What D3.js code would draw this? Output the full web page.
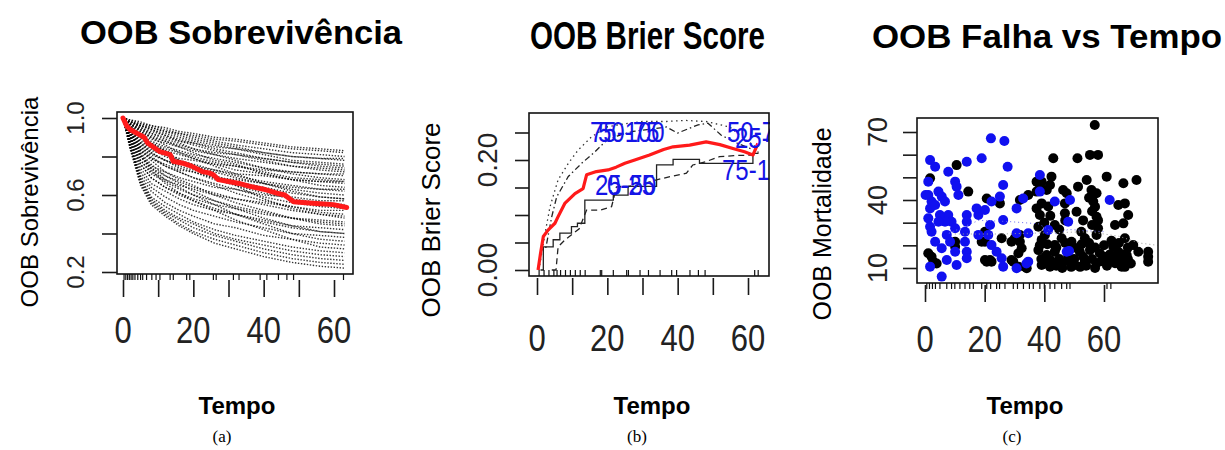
<!DOCTYPE html>
<html><head><meta charset="utf-8">
<script src="https://cdn.jsdelivr.net/npm/d3@7"></script>
<style>body{margin:0;background:#fff} svg{display:block}</style>
</head><body>
<svg id="c" width="1225" height="450"></svg>
<script>
// ---------- Panel (a): OOB survival ----------
const survTimes = [0,2,5,8,12,16,20,26,32,40,48,56,63];
const survCurves = [
 [1,.99,.97,.96,.94,.92,.91,.89,.88,.86,.84,.83,.82],
 [1,.98,.97,.95,.93,.92,.90,.88,.86,.84,.82,.81,.80],
 [1,.98,.96,.95,.93,.91,.89,.87,.85,.82,.80,.79,.78],
 [1,.98,.96,.94,.92,.90,.88,.86,.84,.81,.78,.77,.76],
 [1,.98,.96,.94,.91,.89,.87,.84,.82,.79,.77,.75,.74],
 [1,.98,.95,.93,.91,.88,.86,.83,.81,.78,.75,.73,.72],
 [1,.96,.91,.88,.85,.83,.81,.79,.77,.74,.72,.71,.70],
 [1,.97,.95,.92,.89,.87,.84,.81,.78,.74,.71,.69,.68],
 [1,.95,.90,.86,.83,.81,.79,.76,.73,.71,.68,.67,.66],
 [1,.97,.94,.91,.88,.85,.82,.78,.76,.71,.68,.65,.64],
 [1,.95,.89,.85,.81,.78,.76,.73,.70,.67,.65,.63,.62],
 [1,.94,.88,.84,.80,.77,.75,.72,.69,.66,.63,.61,.60],
 [1,.97,.93,.90,.86,.82,.79,.75,.71,.66,.62,.59,.58],
 [1,.94,.87,.82,.78,.74,.72,.68,.65,.61,.58,.56,.55],
 [1,.90,.78,.72,.68,.65,.63,.60,.58,.56,.54,.52,.52],
 [1,.93,.85,.80,.75,.72,.69,.65,.61,.57,.54,.51,.50],
 [1,.96,.91,.87,.83,.78,.74,.69,.65,.58,.53,.50,.48],
 [1,.89,.76,.69,.64,.61,.58,.55,.53,.50,.48,.47,.46],
 [1,.92,.83,.78,.72,.68,.65,.60,.56,.52,.48,.45,.44],
 [1,.88,.74,.66,.62,.58,.55,.52,.50,.47,.44,.43,.42],
 [1,.92,.82,.76,.70,.66,.62,.57,.53,.48,.44,.41,.40],
 [1,.88,.72,.64,.59,.55,.52,.49,.46,.43,.40,.39,.38],
 [1,.91,.81,.74,.68,.64,.60,.55,.50,.45,.40,.37,.36],
 [1,.87,.70,.62,.56,.52,.49,.45,.43,.39,.37,.35,.34],
 [1,.90,.80,.73,.66,.61,.57,.52,.47,.42,.37,.33,.32],
 [1,.86,.69,.59,.54,.50,.46,.42,.39,.36,.33,.31,.30],
 [1,.86,.68,.58,.52,.48,.45,.40,.37,.34,.31,.29,.28],
 [1,.85,.67,.57,.51,.47,.43,.39,.36,.32,.29,.27,.26],
 [1,.85,.66,.56,.50,.45,.41,.37,.34,.30,.27,.25,.24],
 [1,.84,.65,.55,.49,.44,.40,.35,.32,.28,.25,.23,.22],
 [1,.97,.94,.92,.90,.88,.87,.85,.84,.82,.80,.79,.79],
 [1,.97,.93,.90,.88,.86,.84,.82,.81,.79,.77,.76,.75],
 [1,.94,.87,.83,.81,.79,.78,.76,.75,.73,.72,.71,.71],
 [1,.93,.85,.81,.78,.76,.75,.73,.71,.70,.68,.67,.67],
 [1,.93,.83,.79,.76,.73,.72,.69,.68,.66,.64,.63,.63],
 [1,.91,.81,.75,.72,.69,.67,.64,.63,.60,.59,.57,.57],
 [1,.99,.98,.96,.95,.93,.92,.90,.89,.87,.85,.84,.83],
 [1,.96,.92,.89,.87,.85,.83,.81,.79,.77,.75,.74,.73],
 [1,.95,.90,.87,.84,.82,.80,.77,.75,.72,.69,.68,.67],
 [1,.93,.86,.82,.78,.75,.73,.70,.67,.64,.61,.59,.58],
 [1,.92,.84,.79,.75,.72,.69,.66,.63,.59,.56,.54,.53],
 [1,.90,.80,.74,.70,.67,.64,.61,.58,.55,.52,.50,.49],
 [1,.89,.78,.71,.67,.63,.60,.57,.54,.51,.48,.46,.45],
 [1,.88,.76,.69,.64,.60,.57,.53,.50,.46,.43,.41,.40]
];
const survMeanT = [0,1,2,4,6,7,10.5,13.4,14.3,17,19.5,22.8,24.5,25.7,27.1,30,33,36.1,40,43.7,46,48.5,52,56,59.8,63.6];
const survMeanV = [1.0,.96,.94,.92,.90,.87,.825,.81,.775,.765,.75,.72,.715,.705,.68,.67,.66,.645,.63,.61,.60,.565,.56,.555,.55,.535];
const survRug = [0.3,0.8,1.3,1.8,2.3,2.8,3.4,4.2,5,5.6,6.7,8.2,9.4,10.5,13.4,14.3,18.1,19,25.7,26.5,31.4,33,39,40.9,44.2,46.6,48.5,62.7];
const xTicksA = [0,10,20,30,40,50,60], xLabA = [0,20,40,60];
const yTicksA = [0.2,0.4,0.6,0.8,1.0], yLabA = [0.2,0.6,1.0];

// ---------- Panel (b): OOB Brier score ----------
const brierRedT = [0.3,1.0,1.8,3.2,5.1,6,7.9,10.8,13.1,14.1,16.9,20.2,22.5,25,27.8,32,36,38.7,43.4,48.1,52,55.7,59,61.4,62.8];
const brierRedV = [0.0,0.03,0.061,0.073,0.085,0.097,0.121,0.139,0.148,0.173,0.179,0.182,0.187,0.194,0.2,0.209,0.219,0.224,0.227,0.233,0.228,0.221,0.215,0.209,0.23];
const brierSolidT = [1.0,1.8,4.6,6.5,9.8,11.5,13.6,21.7,25.9,34,38.7,46.2,61.4,63];
const brierSolidV = [0.0,0.042,0.055,0.067,0.079,0.085,0.127,0.136,0.152,0.191,0.201,0.194,0.212,0.212];
const brierDashT = [4.2,5.4,6,8,10,12,14.1,18,21.2,22.6,26,30,34,38,42.5,44.3,48,51.9,56,61.4,63];
const brierDashV = [0.0,0.0,0.042,0.055,0.065,0.075,0.109,0.109,0.115,0.151,0.152,0.156,0.164,0.170,0.176,0.191,0.197,0.206,0.208,0.209,0.215];
const brierDotT = [0.5,0.85,2.3,3.7,6,8.9,11.7,15.5,19.8,25,30,36.8,42,48.1,54.8,59.5,62];
const brierDotV = [0,0.012,0.067,0.115,0.164,0.194,0.218,0.242,0.26,0.266,0.27,0.27,0.272,0.27,0.26,0.236,0.225];
const brierDotDashT = [2.5,4.2,5.6,8.9,12.7,16.5,19.8,23,27.3,32,36.8,40,45.8,48.6,52.4,57.1,61];
const brierDotDashV = [0.04,0.097,0.133,0.17,0.194,0.215,0.236,0.244,0.252,0.256,0.26,0.249,0.264,0.267,0.245,0.23,0.22];
const brierLabels = ["75-100","50-75","25-50","0-25","50-75","25-50","75-100"];
const brierRug = [0.6,2.0,3.4,4.8,5.7,6.7,8.1,9.5,10.9,12.3,13.7,18,18.4,21.7,25.5,26,29.3,31.7,35,38.3,39.7,43.5,45.9,47.8,61.9,62.9];
const xTicksB = [0,10,20,30,40,50,60], xLabB = [0,20,40,60];
const yTicksB = [0,0.05,0.10,0.15,0.20,0.25], yLabB = [0,0.2];

// ---------- Panel (c): OOB failure vs time ----------
const failBlue = [[22.1,67.2],[26.6,66.0],[1.7,57.6],[3.4,54.7],[14.0,56.9],[19.0,58.4],[7.8,52.5],[27.7,54.7],[10.1,48.1],[10.6,45.9],
 [1.1,42.2],[2.2,39.3],[4.5,43.7],[5.6,41.5],[1.7,36.3],[3.4,37.8],[6.7,39.3],[11.2,42.2],[26.2,46.6],[25.1,41.5],[22.3,39.3],
 [1.1,31.9],[1.7,28.2],[2.2,26.0],[7.8,33.4],[8.9,30.4],[6.7,30.4],[10.1,27.5],[14.0,33.4],[14.0,30.4],[13.4,26.0],[17.9,33.4],
 [17.3,36.3],[21.8,29.0],[26.2,31.2],[30.7,36.3],[32.9,40.7],[34.6,25.3],[3.4,21.6],[5.6,18.7],[7.3,13.5],[10.1,17.2],[13.4,21.6],
 [14.0,17.2],[14.0,14.3],[10.6,11.3],[5.6,6.2],[1.7,10.6],[22.3,20.1],[24.0,17.2],[25.7,14.3],[26.2,10.6],[30.7,9.9],[34.6,12.8],
 [17.9,24.6],[21.2,24.6],[7.3,24.6],[8.4,21.6],[5.0,33.4],[4.5,30.4],[0.2,42.2],[1.1,48.1],[20.1,35.6],[38.5,51.0],[38.5,43.7],
 [43.5,39.3],[48.6,40.0],[61.9,40.0],[48.0,30.4],[47.5,17.2],[48.3,17.5],[41.3,26.8],[30.7,25.3],[34.0,12.0]];
const failBlack = [[1.7,49.6],[2.2,15.0],[3.9,12.0],[10.6,55.4],[14.5,43.7],[10.1,21.6],[10.1,19.4],[20.7,40.7],[20.1,21.6],[20.7,12.8],
 [22.3,12.8],[25.1,38.5],[25.7,23.1],[29.6,12.8],[30.1,23.1],[31.8,21.6],[31.3,16.5],[31.8,40.0],[34.6,42.2],[34.1,9.9],[31.3,10.6],
 [1.1,16.5],[2.8,12.8],[19.0,21.6],[20.1,26.0],[20.1,13.5],[21.8,13.5],[29.0,21.6],[29.0,13.5],[31.8,24.6],[32.4,18.7],[33.5,10.6],
 [37.4,48.1],[37.4,43.7],[37.4,36.3],[56.9,73.1],[43.0,58.4],[51.1,58.4],[55.3,59.9],[58.0,59.9],[54.2,48.8],[60.9,50.3],[66.5,47.4],
 [70.9,48.8],[41.9,46.6],[38.5,46.6],[51.3,45.9],[47.5,43.0],[55.8,44.4],[57.5,43.0],[56.4,39.3],[64.8,37.8],[67.0,38.5],[39.1,38.5],
 [41.3,37.1],[46.9,34.1],[50.8,34.8],[57.5,32.6],[68.1,33.4],[38.5,33.4],[43.5,29.0],[38.0,28.2],[52.4,26.0],[58.0,27.5],[63.7,29.0],
 [66.5,29.7],[39.1,22.4],[45.8,23.1],[53.6,23.1],[57.5,24.6],[67.0,23.1],[63.1,19.4],[69.8,20.1],[74.8,17.2],[74.8,12.8],[38.0,17.9],
 [40.8,15.7],[43.5,17.2],[48.0,15.0],[51.9,17.2],[55.3,17.9],[58.6,16.5],[61.9,14.3],[64.8,17.2],[67.6,15.7],[71.5,17.2],[39.1,11.3],
 [41.9,10.6],[45.8,12.1],[50.3,11.3],[53.6,12.8],[57.5,12.1],[63.7,12.1],[65.9,10.6],[67.0,12.8],[49.1,21.6],[43.5,20.1],[40.2,24.6],
 [39.1,48.1],[40.8,44.4],[42.4,50.3],[46.3,44.4],[46.9,38.5],[74.8,15.0],[39,14],[40,12],[42,13.5],[44,11],[45,14],[46,10],[48,13],
 [49,10.5],[50,14],[52,10.5],[53,15],[54,11],[56,14],[57,10],[59,13],[60,15],[61,11],[62,16],[64,14],[65,12],[66,16],[67,10.5],[68,14],
 [69,12],[38.5,20],[41,20.5],[44,19],[47,21],[50,19],[52.5,20.5],[55,21],[57,19],[60,20],[62.5,22],[65,21],[68,19],[56,35],[57,37],
 [55,41],[58,31],[56,29],[53,31],[45,27],[47,31],[42,33],[40,30]];
const failBlueLineT = [8,18,28,38,44,48,60];
const failBlueLineV = [25.3,31,30.5,29.5,25,27,26];
const failGreyLineT = [10,25,40,55,65,72,78];
const failGreyLineV = [25,25,25.5,26,24,21,20];
const failRug = [0.6,1.5,2.5,3.5,5,7.3,8.9,10,11.7,13.4,15,16.2,19,20.7,22,24,25,26.8,29.6,31,33,35,36.3,38.5,40,41.9,43.5,45.8,47.5,48.6,61,62.3];
const xTicksC = [0,20,40,60], xLabC = [0,20,40,60];
const yTicksC = [10,20,30,40,50,60,70], yLabC = [10,40,70];

// ---------- drawing ----------
const svg = d3.select("#c");
const SANS = "'Liberation Sans', Arial, sans-serif";
const SERIF = "'Liberation Serif', 'Times New Roman', serif";
const defs = svg.append("defs");

function clip(id, b){
  defs.append("clipPath").attr("id", id).append("rect")
    .attr("x", b.x0).attr("y", b.y0).attr("width", b.x1 - b.x0).attr("height", b.y1 - b.y0);
}
function box(b){
  svg.append("rect").attr("x", b.x0).attr("y", b.y0).attr("width", b.x1 - b.x0).attr("height", b.y1 - b.y0)
    .attr("fill", "none").attr("stroke", "#111").attr("stroke-width", 1.6);
}
function xAxis(scale, ticks, y, len){
  const g = svg.append("g").attr("transform", `translate(0,${y})`)
    .call(d3.axisBottom(scale).tickValues(ticks).tickSize(len).tickFormat(""));
  g.select(".domain").remove();
  g.selectAll("line").attr("stroke", "#1a1a1a").attr("stroke-width", 1.6);
}
function yAxis(scale, ticks, x, len){
  const g = svg.append("g").attr("transform", `translate(${x},0)`)
    .call(d3.axisLeft(scale).tickValues(ticks).tickSize(len).tickFormat(""));
  g.select(".domain").remove();
  g.selectAll("line").attr("stroke", "#1a1a1a").attr("stroke-width", 1.6);
}
function xLabels(scale, vals, y, size){
  svg.append("g").selectAll("text").data(vals).join("text")
    .attr("transform", d => `translate(${scale(d)},${y}) scale(1,1.2)`)
    .attr("text-anchor", "middle").attr("font-family", SANS).attr("font-size", size)
    .attr("fill", "#222").text(d => d);
}
function yLabels(scale, vals, fmt, x, size){
  svg.append("g").selectAll("text").data(vals).join("text")
    .attr("transform", d => `translate(${x},${scale(d)}) rotate(-90)`)
    .attr("text-anchor", "middle").attr("font-family", SANS).attr("font-size", size)
    .attr("fill", "#222").text(d => fmt(d));
}
function rotTitle(txt, x, y, size){
  svg.append("text").attr("transform", `translate(${x},${y}) rotate(-90)`)
    .attr("text-anchor", "middle").attr("font-family", SANS).attr("font-size", size)
    .attr("fill", "#000").text(txt);
}
function title(txt, x, y, size, len){
  svg.append("text").attr("x", x).attr("y", y).attr("font-family", SANS).attr("font-weight", "bold")
    .attr("font-size", size).attr("textLength", len).attr("lengthAdjust", "spacingAndGlyphs")
    .attr("fill", "#000").text(txt);
}
function bottomText(txt, cx, y, size, bold, fam){
  svg.append("text").attr("x", cx).attr("y", y).attr("text-anchor", "middle")
    .attr("font-family", fam).attr("font-weight", bold ? "bold" : "normal")
    .attr("font-size", size).attr("fill", "#000").text(txt);
}
function rug(scale, vals, y1, y2){
  svg.append("g").selectAll("line").data(vals).join("line")
    .attr("x1", d => scale(d)).attr("x2", d => scale(d)).attr("y1", y1).attr("y2", y2)
    .attr("stroke", "#111").attr("stroke-width", 1.2);
}

// ----- Panel A -----
const boxA = {x0:117, y0:112, x1:353, y1:274};
const xA = d3.scaleLinear().domain([0,60]).range([123,334]);
const yA = d3.scaleLinear().domain([0.2,1.0]).range([272,118]);
clip("clipA", boxA);
const gA = svg.append("g").attr("clip-path", "url(#clipA)");
const lineA = d3.line().x((d,i) => xA(survTimes[i])).y(d => yA(d));
gA.selectAll("path.curve").data(survCurves).join("path").attr("class", "curve")
  .attr("d", lineA).attr("fill", "none").attr("stroke", "#000").attr("stroke-width", 1.4)
  .attr("stroke-dasharray", "1.4,1.6").attr("opacity", 0.8);
const meanA = d3.line().x((d,i) => xA(survMeanT[i])).y(d => yA(d));
gA.append("path").attr("d", meanA(survMeanV)).attr("fill", "none").attr("stroke", "#ff1a1a")
  .attr("stroke-width", 5).attr("stroke-linejoin", "round").attr("stroke-linecap", "round");
box(boxA);
rug(xA, survRug, 274, 280);
xAxis(xA, xTicksA, 280, 17);
yAxis(yA, yTicksA, 117, 15);
xLabels(xA, xLabA, 343, 31);
yLabels(yA, yLabA, d3.format(".1f"), 84, 24);
rotTitle("OOB Sobrevivência", 38, 202, 24);
title("OOB Sobrevivência", 80, 44, 34, 322);
bottomText("Tempo", 237, 414, 24, true, SANS);
bottomText("(a)", 222, 442, 17, false, SERIF);

// ----- Panel B -----
const boxB = {x0:529, y0:113, x1:769, y1:276};
const xB = d3.scaleLinear().domain([0,60]).range([537,748]);
const yB = d3.scaleLinear().domain([0,0.25]).range([270,132.5]);
clip("clipB", boxB);
const gB = svg.append("g").attr("clip-path", "url(#clipB)");
function seriesB(T, V, curve){
  return d3.line().curve(curve).x((d,i) => xB(T[i])).y(d => yB(d))(V);
}
gB.append("path").attr("d", seriesB(brierDotT, brierDotV, d3.curveLinear)).attr("fill", "none")
  .attr("stroke", "#333").attr("stroke-width", 1.3).attr("stroke-dasharray", "1.5,3.5");
gB.append("path").attr("d", seriesB(brierDotDashT, brierDotDashV, d3.curveLinear)).attr("fill", "none")
  .attr("stroke", "#222").attr("stroke-width", 1.3).attr("stroke-dasharray", "1.5,3,6,3");
gB.append("path").attr("d", seriesB(brierDashT, brierDashV, d3.curveLinear)).attr("fill", "none")
  .attr("stroke", "#222").attr("stroke-width", 1.3).attr("stroke-dasharray", "6,4");
gB.append("path").attr("d", seriesB(brierSolidT, brierSolidV, d3.curveStepAfter)).attr("fill", "none")
  .attr("stroke", "#222").attr("stroke-width", 1.3);
gB.append("path").attr("d", seriesB(brierRedT, brierRedV, d3.curveLinear)).attr("fill", "none")
  .attr("stroke", "#ff1a1a").attr("stroke-width", 3.2).attr("stroke-linejoin", "round");
rug(xB, brierRug, 270, 276);
clip("clipBL", {x0:529, y0:100, x1:770, y1:276});
const gBL = svg.append("g").attr("clip-path", "url(#clipBL)");
const labPos = [[590,142],[598,142],[595,195],[607,195],[727,142],[735,148],[722,180]];
gBL.selectAll("text").data(brierLabels).join("text")
  .attr("transform", (d,i) => `translate(${labPos[i][0]},${labPos[i][1]}) scale(0.8,1)`)
  .attr("font-family", SANS).attr("font-size", 30).attr("fill", "#1414e6")
  .text(d => d);
box(boxB);
xAxis(xB, xTicksB, 278, 17);
yAxis(yB, yTicksB, 529, 14);
xLabels(xB, xLabB, 351, 31);
yLabels(yB, yLabB, d3.format(".2f"), 497, 28);
rotTitle("OOB Brier Score", 440, 220, 26);
title("OOB Brier Score", 530, 49, 38, 235);
bottomText("Tempo", 652, 414, 24, true, SANS);
bottomText("(b)", 637, 442, 17, false, SERIF);

// ----- Panel C -----
const boxC = {x0:917, y0:118, x1:1158, y1:283};
const xC = d3.scaleLinear().domain([0,60]).range([925,1104]);
const yC = d3.scaleLinear().domain([10,70]).range([268,132]);
clip("clipC", boxC);
const gC = svg.append("g").attr("clip-path", "url(#clipC)");
gC.selectAll("circle.bk").data(failBlack).join("circle").attr("class", "bk")
  .attr("cx", d => xC(d[0])).attr("cy", d => yC(d[1])).attr("r", 5).attr("fill", "#000");
gC.selectAll("circle.bl").data(failBlue).join("circle").attr("class", "bl")
  .attr("cx", d => xC(d[0])).attr("cy", d => yC(d[1])).attr("r", 5).attr("fill", "#1010f0");
gC.append("path").attr("d", d3.line().x((d,i) => xC(failBlueLineT[i])).y(d => yC(d))(failBlueLineV))
  .attr("fill", "none").attr("stroke", "#6a6af0").attr("stroke-width", 1).attr("stroke-dasharray", "1,3");
gC.append("path").attr("d", d3.line().x((d,i) => xC(failGreyLineT[i])).y(d => yC(d))(failGreyLineV))
  .attr("fill", "none").attr("stroke", "#999").attr("stroke-width", 1).attr("stroke-dasharray", "1,3");
box(boxC);
rug(xC, failRug, 283, 289);
xAxis(xC, xTicksC, 285, 17);
yAxis(yC, yTicksC, 917, 14);
xLabels(xC, xLabC, 352, 31);
yLabels(yC, yLabC, d3.format("d"), 887, 27);
rotTitle("OOB Mortalidade", 831, 224, 25);
title("OOB Falha vs Tempo", 872, 48, 34, 350);
bottomText("Tempo", 1025, 414, 24, true, SANS);
bottomText("(c)", 1012, 442, 17, false, SERIF);
</script>
</body></html>
